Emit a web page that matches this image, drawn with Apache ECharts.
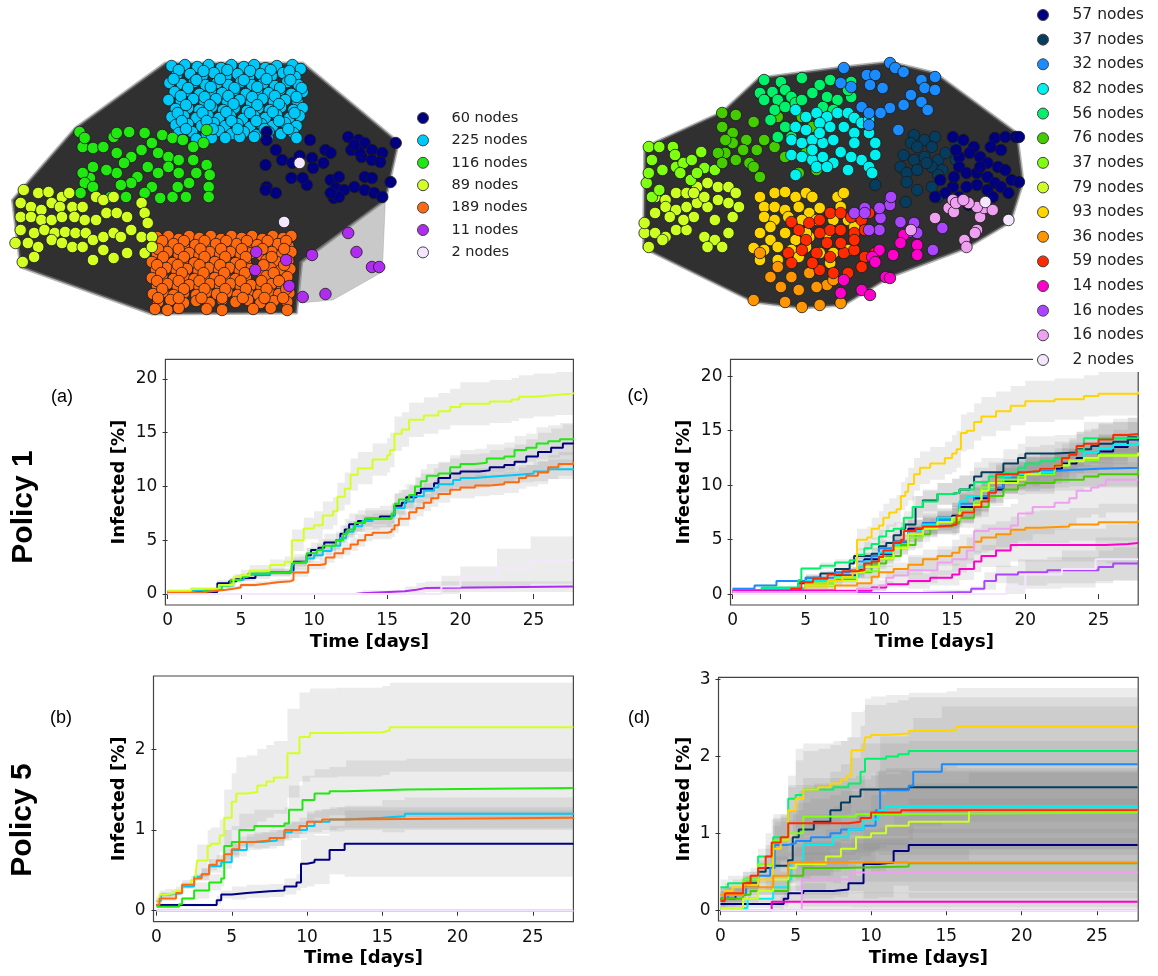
<!DOCTYPE html>
<html><head><meta charset="utf-8">
<script src="https://cdn.jsdelivr.net/npm/echarts@6/dist/echarts.min.js"></script>
<style>html,body{margin:0;padding:0;background:#fff}#c{width:1158px;height:976px}</style>
</head><body><div id="c"></div>
<script>
// ---------- tick labels ----------
const X_TICKS = [0, 5, 10, 15, 20, 25];
const Y_TICKS_A = [0, 5, 10, 15, 20];
const Y_TICKS_B = [0, 1, 2];
const Y_TICKS_C = [0, 5, 10, 15, 20];
const Y_TICKS_D = [0, 1, 2, 3];

// ---------- left network (layout coordinates) ----------
const LEFT_NAMES = ['60 nodes', '225 nodes', '116 nodes', '89 nodes', '189 nodes', '11 nodes', '2 nodes'];
const L60 = [258,82,258,90,267,100,273,110,257,115,283,113,290,106,300,90,302,108,303,118,315,100,313,113,320,103,282,128,297,135,293,128,258,137,267,143,257,140,320,130,325,138,328,127,323,148,337,87,347,90,353,93,360,100,370,103,383,93,340,100,350,107,360,110,368,112,353,127,360,128,343,137,353,140,362,143,370,147,378,132,333,140,328,147,320,143,348,102,343,95];
const L225 = [166,16,179,15,191,17,202,15,214,18,224,15,236,17,246,15,257,18,268,16,283,15,291,19,
171,25,184,24,196,26,207,23,219,26,230,24,241,27,252,24,263,26,274,23,286,27,
164,33,176,34,188,32,199,35,210,33,221,35,233,32,244,35,255,33,266,36,278,32,289,35,
169,42,181,41,193,44,204,41,215,43,227,40,238,44,249,41,260,43,271,40,282,44,293,42,
163,50,175,51,187,49,198,52,209,49,220,52,232,50,243,53,254,49,265,52,276,50,288,52,
170,59,182,58,193,60,205,57,216,60,227,58,239,61,250,58,261,60,272,57,284,60,293,58,
166,67,178,66,190,68,201,65,212,68,223,66,235,69,246,66,257,68,268,65,280,68,290,66,
170,75,182,74,195,76,207,73,218,76,230,74,242,77,253,74,264,76,276,73,287,76,
173,83,186,82,200,84,212,81,224,84,236,82,248,85,260,82,272,84,284,83,
176,90,190,89,205,88,218,88,232,87,246,87,259,88,287,88,
173,20,197,21,220,20,242,21,262,20,280,21,
168,29,190,30,213,29,236,30,258,29,281,30,
182,38,204,37,227,38,249,37,271,38,292,38,
175,46,198,47,221,46,244,47,266,46,287,47,
180,55,203,55,226,54,249,55,270,54,
172,63,196,63,219,62,242,63,264,62,285,63,
176,71,200,71,224,71,248,71,270,71,
180,79,206,79,230,79,256,79,279,79];
const L116 = [77,82,80,97,90,98,82,88,100,97,110,87,113,83,125,82,140,83,157,85,167,88,177,90,187,97,197,93,200,80,113,103,127,107,137,100,147,93,153,103,163,107,173,110,187,110,200,115,203,125,202,137,202,147,190,123,183,133,172,137,180,147,167,147,155,148,147,137,140,143,133,127,127,133,117,135,113,123,103,120,90,117,87,128,80,123,82,133,78,143,90,137,107,147,122,147,153,123,163,117,143,117,173,123,120,113];
const L89 = [23,140,37,143,47,142,60,147,67,143,20,153,30,157,40,160,50,153,58,157,70,157,80,157,93,147,100,150,110,147,20,167,30,167,40,170,50,170,60,167,72,167,82,170,93,170,103,163,113,163,123,167,137,153,140,163,143,173,20,180,33,183,43,180,53,183,63,182,73,183,83,183,90,190,100,187,110,183,117,187,127,180,137,187,147,187,15,193,27,193,37,197,50,190,60,193,70,197,80,197,90,210,100,200,110,208,123,203,140,203,147,197,22,212,33,207];
const L189 = [152,187,163,186,173,189,183,186,193,188,204,186,214,189,224,186,234,188,244,186,254,189,264,186,274,188,282,186,
148,195,158,196,168,194,178,197,189,195,199,197,209,194,219,196,229,194,239,197,249,195,259,197,269,194,279,196,
152,204,162,202,173,205,183,203,193,205,203,202,213,204,223,202,233,205,243,203,253,205,263,202,273,204,282,202,
147,212,157,210,167,213,177,211,188,213,198,210,208,212,218,210,228,213,238,211,258,210,268,212,279,211,
151,220,161,218,171,221,181,219,192,221,202,218,212,220,222,218,232,221,242,219,252,221,262,218,272,220,281,219,
147,228,157,226,168,229,178,227,188,229,198,226,208,228,218,226,228,229,238,227,258,226,268,229,278,227,
152,236,162,234,172,237,183,235,193,237,203,234,213,236,223,234,233,237,243,235,253,237,263,234,273,236,
148,244,158,242,168,245,178,243,190,245,200,242,210,244,220,242,230,245,240,243,250,245,260,242,270,244,280,243,
153,252,165,250,178,253,190,251,203,253,215,250,228,252,240,250,252,253,265,251,278,252,
150,259,162,260,173,258,200,259,215,260,245,259,262,258,278,260,
157,191,178,191,198,191,219,191,239,191,259,191,277,191,
153,199,173,199,194,199,214,199,234,199,254,199,275,199,
158,207,178,207,198,207,218,207,238,207,263,207,
152,215,172,215,193,215,213,215,233,215,255,215,275,215,
156,223,176,223,197,223,217,223,237,223,265,223,
152,231,173,231,193,231,213,231,233,231,253,231,270,231,
157,239,178,239,198,239,218,239,238,239,258,239,277,239,
153,248,173,248,195,248,215,248,235,248,256,248,274,248];
const L11 = [337,183,345,202,302,205,360,217,367,217,315,244,293,247,280,236,248,202,247,220,277,210];
const L2 = [290,113,275,172];
const L_POLY = [160,13,293,13,383,90,384,100,373,150,340,175,292,212,287,263,147,264,20,217,12,150,73,78];
const L_FAN = [373,150,370,222,322,250,290,253,290,212,340,175];

// ---------- right network (layout coordinates) ----------
const RIGHT_NAMES = ['57 nodes', '37 nodes', '32 nodes', '82 nodes', '56 nodes', '76 nodes', '37 nodes\u200b', '79 nodes', '93 nodes', '36 nodes', '59 nodes', '14 nodes', '16 nodes', '16 nodes\u200b', '2 nodes\u200b'];
const R57 = [327,137,337,140,347,147,367,138,377,137,387,137,390,137,373,150,333,157,343,153,353,157,360,163,370,167,377,170,383,180,390,182,333,167,340,173,350,173,360,177,367,183,373,187,380,193,360,190,350,185,340,187,327,187,320,193,310,197,333,197,342,205,365,197,353,167,328,177,315,180,363,147,330,150];
const R37 = [290,135,287,143,300,140,310,137,307,147,293,147,280,155,290,160,300,157,313,160,320,153,330,143,277,167,283,173,293,170,307,167,317,170,313,175,283,182,293,190,307,187,253,185,282,202,313,197,330,160,302,163];
const R32 = [223,68,245,75,253,75,260,88,248,85,267,63,272,68,280,72,297,80,300,88,310,77,310,90,287,95,280,105,267,108,258,113,240,107,247,113,297,102,303,110,275,130,230,87,247,125,220,83];
const R82 = [177,110,187,117,197,113,207,117,217,113,227,113,233,118,240,123,247,120,177,127,187,130,200,123,210,127,223,127,233,133,247,133,253,143,173,140,183,143,193,140,203,143,213,140,220,152,233,143,173,155,183,157,193,160,203,157,213,163,227,170,240,160,247,167,250,173,253,155,177,175,197,167,207,167,193,150,230,157,200,133];
const R56 = [147,80,163,82,183,78,200,85,210,80,220,83,230,82,143,93,155,92,167,90,173,97,160,100,147,100,157,110,167,107,177,103,207,97,217,100,230,97,203,107,213,110,227,90,153,120,167,127,173,137,160,137,183,100,193,93];
const R76 = [107,113,120,115,137,122,107,127,117,133,130,140,140,150,110,153,120,160,133,163,143,177,103,153,107,163,117,143,147,140,157,147,167,157,187,153,193,127,183,117,197,170,180,173,200,140,127,150,137,167,160,117,110,140];
const R37B = [37,147,47,147,60,147,62,155,40,160,50,170,63,167,70,163,78,160,87,152,90,168,35,183,40,197,47,190,67,173,77,180,100,170,107,163,83,173,37,173];
const R79 = [43,197,53,200,63,193,73,193,83,187,93,183,103,187,113,187,120,193,43,213,53,207,63,210,73,207,83,203,93,207,103,200,113,203,123,207,33,233,43,233,53,237,63,230,73,230,90,237,100,240,113,233,117,217,100,220,80,217,70,220,57,217,37,247,50,240,93,247,107,247,33,223,80,193,90,197];
const R93 = [143,197,157,193,167,192,177,197,187,193,193,197,217,197,223,193,147,207,157,207,167,210,180,207,190,213,200,208,220,207,147,217,157,220,170,217,183,220,197,220,213,220,227,220,143,233,153,240,167,233,177,240,190,237,207,233,220,230,233,227,147,250,160,247,173,250,187,247,200,253,213,253,227,250,143,260,160,260,180,257,210,263,187,233,153,227,137,248];
const R36 = [137,300,153,277,163,287,167,302,183,307,200,305,220,303,173,277,190,273,207,285,143,253,160,267,180,290,197,287,213,280];
const R59 = [173,222,180,230,190,223,200,220,210,213,220,213,230,217,240,220,247,213,187,240,200,233,210,230,220,230,233,233,243,230,170,253,183,250,197,253,210,257,223,253,233,250,243,257,200,270,213,273,227,273,240,267,193,263,233,240,207,243,220,243,173,263,253,253];
const R14 = [220,293,240,290,248,295,257,250,250,257,270,255,263,277,267,278,280,235,293,245,293,255,253,262,223,280,277,243];
const R16 = [233,213,243,208,258,218,257,230,267,198,267,205,277,222,290,223,317,228,308,250,285,232,247,230,257,208,268,197,243,213,293,233];
const R16B = [310,218,323,208,327,200,338,240,340,247,350,230,353,217,357,208,365,210,350,207,328,212,287,230,330,203,342,203,348,233,337,200];
const R2 = [358,202,380,220];
const R_POLY = [142,78,223,67,267,62,310,73,388,133,394,182,382,222,340,248,267,277,223,305,183,308,137,302,32,248,33,147,107,112];

// ---------- panel (a): Policy 1, left network clusters ----------
const A60 = [[0,0.2],[3.4,1.0],[4.2,1.2],[4.7,1.5],[6,1.8],[7,2.0],[8.4,2.2],[8.6,3.0],[9.5,3.6],[9.8,4.1],[10.3,4.3],[10.7,4.8],[11.5,5.0],[11.8,5.6],[12.1,6.0],[12.4,6.5],[13,6.8],[13.5,7.0],[14.5,7.2],[15.3,7.3],[15.5,8.2],[16,8.5],[16.3,9.0],[17,9.4],[17.3,9.8],[18.2,10.3],[18.5,10.8],[19.3,11.2],[20,11.4],[21.3,11.5],[22,11.8],[23,12.0],[23.7,12.3],[24.5,12.8],[25.3,13.2],[26.2,13.6],[27,14.0],[27.7,14.1]];
const A225 = [[0,0.25],[1.5,0.35],[2.5,0.5],[3.5,0.8],[4.5,1.3],[5.2,1.6],[5.5,1.8],[7,2.0],[8.5,2.5],[8.6,2.9],[9.5,3.3],[10,3.6],[10.6,4.0],[11.2,4.5],[11.8,5.2],[12.2,5.8],[12.7,6.3],[13.3,6.8],[14,7.0],[15.3,7.2],[15.5,8.0],[16.2,8.6],[16.8,9.1],[17.5,9.6],[18.2,9.9],[18.5,10.2],[19.5,10.6],[20,10.8],[21,10.9],[22,11.0],[23,11.1],[24,11.2],[25,11.4],[26,11.6],[27.7,11.7]];
const A116 = [[0,0.1],[2.5,0.4],[3.7,0.8],[4.3,1.3],[5,1.6],[5.5,1.9],[6.5,2.0],[8.4,2.1],[8.5,2.9],[9,3.0],[9.5,3.8],[10.2,4.1],[10.6,4.5],[11.5,5.0],[12,5.6],[12.3,6.0],[12.8,6.6],[13.5,7.0],[15.3,7.5],[15.5,8.4],[15.8,8.8],[16.5,9.2],[16.9,10.0],[17.3,10.5],[17.7,11.0],[18.5,11.2],[19.3,11.8],[20,12.1],[21,12.2],[21.8,12.6],[23,12.8],[23.7,13.4],[24.5,13.6],[25.2,14.0],[26,14.2],[26.8,14.4],[27.7,14.5]];
const A89 = [[0,0.3],[1.6,0.5],[3.5,0.85],[4.5,1.55],[5,1.75],[5.6,2.2],[7,2.7],[8,3.0],[8.5,5.0],[9.3,6.1],[10,6.4],[10.6,7.3],[11.3,7.7],[11.6,9.05],[12.1,9.8],[12.5,11.1],[13,11.7],[14,12.5],[15,12.9],[15.2,13.4],[15.5,14.9],[16,15.3],[16.5,16.2],[17.5,16.6],[18.5,17.0],[19.3,17.4],[20,17.7],[22,17.9],[23.5,18.1],[24,18.35],[25,18.5],[26.5,18.65],[27.7,18.75]];
const A189 = [[0,0.1],[2,0.25],[3,0.4],[4,0.5],[4.5,0.6],[5,0.85],[6,1.0],[7,1.1],[7.5,1.2],[8.4,1.3],[8.6,2.0],[9.6,2.7],[10.4,2.8],[10.8,3.4],[11.4,3.8],[12,4.2],[12.5,4.6],[13,5.0],[13.5,5.5],[14,5.7],[15,5.8],[15.3,6.0],[15.5,6.4],[15.8,7.0],[16.5,7.6],[17,8.0],[17.5,8.5],[18,8.9],[18.5,9.3],[19.3,9.7],[20,9.9],[21,10.1],[22,10.2],[23,10.4],[24,10.8],[24.5,11.0],[25.3,11.3],[26,11.8],[26.7,12.1],[27.7,12.3]];
const A11 = [[0,0],[12.85,0.08],[13.3,0.25],[16.2,0.4],[17,0.55],[17.6,0.7],[27.7,0.7]];
const A2 = [[0,0],[18.7,0.7],[20,1.55],[22.5,2.4],[24.8,3.15],[27.7,3.15]];
// band half-widths [time, half-width]
const A60_HW = [[0,0.1],[3,0.3],[5,0.4],[8.5,0.7],[10,0.8],[12,1.0],[15,1.2],[17,1.4],[20,1.6],[25,1.8]];
const A225_HW = [[0,0.05],[3,0.1],[5,0.2],[8.5,0.3],[10,0.4],[12,0.5],[15,0.6],[17,0.7],[20,0.8],[25,0.9]];
const A116_HW = [[0,0.1],[3,0.2],[5,0.3],[8.5,0.5],[10,0.6],[12,0.8],[15,0.9],[17,1.1],[20,1.3],[25,1.5]];
const A89_HW = [[0,0.1],[3,0.3],[5,0.5],[8.5,1.0],[10,1.3],[12,1.5],[15,1.6],[17,1.7],[20,2.0],[25,2.0]];
const A189_HW = [[0,0.05],[3,0.15],[5,0.2],[8.5,0.4],[10,0.5],[12,0.6],[15,0.7],[17,0.8],[20,1.0],[25,1.1]];
const A11_HW = [[0,0],[12.8,0.1],[15,0.3],[17,0.5],[20,0.6]];
const A2_HW = [[0,0],[18.7,1.0],[20,1.0],[22.5,1.8],[24.8,2.2]];

// ---------- panel (b): Policy 5, left network clusters ----------
const B60 = [[0,0.07],[3.8,0.07],[4,0.13],[4.3,0.2],[5,0.22],[6,0.24],[7.5,0.25],[8.5,0.3],[9.3,0.35],[9.6,0.58],[10,0.6],[10.5,0.63],[11.5,0.75],[12.5,0.83],[27.7,0.83]];
const B225 = [[0,0.12],[0.3,0.2],[1,0.22],[1.7,0.3],[2.5,0.42],[3,0.45],[3.5,0.55],[4.3,0.6],[5,0.75],[6,0.85],[7,0.87],[8,0.9],[8.5,0.97],[9,1.0],[10,1.05],[10.5,1.1],[11.5,1.13],[12.5,1.15],[15,1.17],[16.5,1.2],[27.7,1.21]];
const B116 = [[0,0.05],[1.5,0.08],[1.7,0.15],[2.5,0.25],[3.5,0.35],[4.3,0.4],[4.5,0.8],[5,0.85],[5.5,1.0],[6.5,1.05],[8.5,1.08],[8.8,1.25],[9.7,1.37],[10.5,1.45],[11.5,1.48],[12.6,1.5],[16.6,1.52],[27.7,1.52]];
const B89 = [[0,0.13],[0.2,0.2],[0.6,0.22],[1.3,0.25],[1.7,0.33],[2.3,0.38],[2.6,0.45],[2.7,0.62],[3.4,0.8],[3.6,0.83],[4.2,0.93],[4.5,1.15],[5,1.35],[5.3,1.45],[6,1.47],[6.7,1.55],[7.3,1.6],[7.8,1.65],[8.7,1.95],[9.5,2.15],[10.2,2.2],[12,2.21],[15,2.23],[15.5,2.27],[27.7,2.27]];
const B189 = [[0,0.07],[0.2,0.15],[1.3,0.22],[1.7,0.32],[2.5,0.4],[3,0.45],[3.5,0.57],[4,0.62],[4.5,0.7],[5,0.76],[5.5,0.85],[6.5,0.87],[7.5,0.9],[8.5,1.0],[9.5,1.05],[10,1.1],[11,1.13],[12,1.15],[27.7,1.16]];
const B11 = [[0,0],[27.7,0]];
const B2 = [[0,0],[27.7,0]];
const B60_HW = [[0,0.02],[4,0.05],[5,0.08],[8.5,0.1],[9.6,0.3],[12.5,0.41]];
const B225_HW = [[0,0.03],[3,0.08],[6,0.1],[10,0.15],[13,0.2]];
const B116_HW = [[0,0.02],[2,0.1],[4.5,0.2],[8.8,0.3],[12.6,0.36]];
const B89_HW = [[0,0.05],[2.7,0.2],[4.5,0.35],[5.3,0.45],[8.7,0.55],[12,0.55]];
const B189_HW = [[0,0.03],[3,0.07],[6,0.1],[10,0.13],[13,0.17]];
const B11_HW = [[0,0]];
const B2_HW = [[0,0]];

// ---------- panel (c): Policy 1, right network clusters ----------
const C57 = [[0,0.3],[2,0.5],[5,1.2],[7,1.7],[8.5,2.2],[9,3.2],[10,3.7],[11,4.8],[12,6.0],[13,6.5],[14,7.0],[15,7.2],[15.5,8.0],[16.5,8.8],[17.5,9.6],[18.5,10.4],[19.5,10.9],[20,11.1],[22,11.5],[22.5,12.0],[23.5,12.5],[25,13.1],[26,13.5],[27,14.2],[27.7,14.3]];
const C37 = [[0,0.3],[2,0.5],[4.5,1.0],[5,1.5],[6,1.9],[7,2.3],[8,2.8],[8.3,3.5],[9.5,3.7],[10,4.4],[10.5,4.7],[11,5.4],[11.5,6.0],[11.8,6.4],[12.5,8.0],[13,8.6],[14,9.2],[15,9.3],[15.5,9.6],[16.2,10.0],[16.5,10.8],[17,11.2],[18.5,12.0],[19.5,12.5],[20,12.9],[22,13.0],[23.5,13.3],[24.5,13.6],[25,13.8],[26,14.0],[27,14.4],[27.7,14.5]];
const C32 = [[0,0.5],[1.5,0.8],[3,1.2],[5,1.5],[7,2.0],[8,2.2],[8.5,3.0],[9.5,3.5],[10,4.2],[11,4.8],[12,5.8],[13,6.5],[14,6.8],[15,7.0],[15.5,8.3],[16.5,9.0],[17.5,9.8],[18.5,10.7],[19.5,11.0],[20,11.1],[21,11.3],[22,11.4],[23,11.5],[25,11.6],[27.7,11.7]];
const C82 = [[0,0.3],[2,0.5],[5,1.2],[7,1.6],[8.6,2.5],[9,3.0],[10,3.8],[11,4.6],[12,5.8],[13,6.4],[14,7.0],[15,7.1],[15.5,8.5],[16,9.0],[17,9.6],[18,10.2],[18.5,10.8],[19,11.0],[20,11.2],[22,11.8],[23,12.3],[24,13.0],[25,13.4],[26,13.7],[27.7,14.0]];
const C56 = [[0,0.3],[2,0.6],[4.5,1.3],[4.7,2.35],[6,2.6],[7,2.9],[8,3.1],[8.5,3.6],[9,4.2],[9.5,4.6],[10,5.3],[10.5,5.8],[11,6.0],[11.7,7.0],[12.3,8.0],[13,8.5],[14,9.2],[15,9.3],[15.5,9.6],[16.5,10.3],[17.5,10.8],[18.5,11.1],[19.5,11.6],[20,12.0],[21,12.2],[22,12.5],[23,12.8],[23.5,13.2],[24,14.3],[27.7,14.5]];
const C76 = [[0,0.2],[5,0.8],[7,1.3],[8.5,2.0],[9.5,2.8],[10.5,3.5],[11.5,4.5],[12.5,5.5],[13.5,6.2],[15,6.5],[15.5,7.0],[16.5,8.0],[17.5,9.0],[18.5,9.6],[19.5,10.0],[20,10.2],[22,10.5],[24,10.8],[25,11.0],[27.7,11.4]];
const C37B = [[0,0.2],[5,1.0],[7,1.5],[8.5,2.1],[10,3.2],[11,4.3],[12,5.2],[13,6.2],[14,6.6],[15,6.8],[15.5,7.8],[16.5,8.5],[17,9.8],[18,10.5],[19.5,10.8],[20,11.0],[22,11.8],[23,12.3],[25,12.8],[27.7,12.9]];
const C79 = [[0,0.1],[5,0.8],[7,1.2],[8.5,2.0],[9,2.5],[10,3.3],[11,4.2],[12,5.5],[13,6.0],[14,6.6],[15,7.0],[15.5,7.5],[16.5,8.2],[17,9.5],[17.5,10.2],[19.5,10.5],[20,11.0],[21,11.5],[22,11.8],[23,12.2],[24,12.5],[25,12.7],[27.7,13.0]];
const C93 = [[0,0.2],[3,0.3],[5,0.8],[6.5,1.2],[7.5,1.6],[8.2,2.1],[8.5,5.0],[9.2,5.2],[9.5,6.0],[10,6.3],[10.3,7.0],[10.7,7.5],[11.2,7.8],[11.5,9.0],[11.8,9.4],[12,10.1],[12.4,11.0],[12.8,11.6],[13.5,12.0],[14.5,12.5],[15,12.9],[15.3,13.3],[15.6,14.8],[16,15.0],[16.5,15.8],[17,16.3],[18,16.8],[19,17.3],[20,17.7],[22,17.9],[24,18.2],[25,18.4],[27.7,18.6]];
const C36 = [[0,0.2],[5,0.4],[7,0.8],[8.5,1.0],[9.5,1.6],[10,2.0],[11,2.3],[12,2.7],[13,3.2],[14,3.5],[15,3.8],[15.5,4.3],[16.5,4.8],[17,5.2],[18,5.5],[19,5.9],[20,6.1],[21,6.2],[23,6.4],[25,6.6],[27.7,6.8]];
const C59 = [[0,0.2],[4,0.5],[4.7,1.1],[5.5,1.4],[6.5,1.8],[7.5,2.1],[8.5,2.2],[9,2.8],[9.5,3.0],[10,3.4],[10.3,4.0],[11,4.7],[11.5,5.0],[11.7,5.8],[12.5,6.0],[13,6.2],[14,6.3],[15,6.4],[15.3,7.2],[15.7,7.5],[16.5,8.0],[17,8.5],[17.5,9.3],[18,11.0],[19.5,11.2],[20,11.3],[21,11.5],[22,11.8],[22.5,12.5],[23,12.8],[23.5,13.6],[24,13.8],[25,14.2],[26,14.6],[27,14.7],[27.7,14.7]];
const C14 = [[0,0.3],[8.5,0.3],[9.5,0.6],[10.5,0.9],[12,1.2],[13.5,1.5],[15,1.8],[15.5,2.3],[16.5,3.0],[17,3.5],[18,4.0],[19,4.5],[25.5,4.6],[27,4.7],[27.7,4.7]];
const C16 = [[0,0.1],[13,0.2],[16.3,0.5],[17.2,1.2],[18,1.8],[19.5,2.0],[21.5,2.2],[25,2.5],[26,2.8],[27.7,2.8]];
const C16B = [[0,0.2],[8.5,0.5],[10,0.8],[10.5,1.5],[11,1.7],[12,2.2],[14,2.9],[15,3.2],[16,4.0],[16.5,5.8],[17.5,6.0],[19,6.3],[19.5,7.4],[20.5,8.0],[22,8.4],[23,8.8],[23.5,9.5],[24.5,9.8],[25,10.0],[25.5,10.5],[27.7,10.5]];
const C2 = [[0,0],[18.7,0.7],[20,1.8],[22.5,2.3],[24.8,3.2],[27.7,3.2]];
const C57_HW = [[0,0.1],[5,0.3],[8.5,0.6],[12,0.9],[15,1.2],[20,1.4],[25,1.6]];
const C37_HW = [[0,0.1],[5,0.3],[8.5,0.6],[12,1.0],[15,1.3],[20,1.6],[25,1.8]];
const C32_HW = [[0,0.1],[5,0.3],[8.5,0.7],[12,1.0],[15,1.4],[20,1.6],[25,1.8]];
const C82_HW = [[0,0.05],[5,0.2],[8.5,0.4],[12,0.6],[15,0.8],[20,1.0],[25,1.1]];
const C56_HW = [[0,0.1],[5,0.3],[8.5,0.6],[12,1.0],[15,1.3],[20,1.5],[25,1.7]];
const C76_HW = [[0,0.05],[5,0.2],[8.5,0.5],[12,0.7],[15,0.9],[20,1.0],[25,1.1]];
const C37B_HW = [[0,0.1],[5,0.3],[8.5,0.7],[12,1.0],[15,1.3],[20,1.6],[25,1.8]];
const C79_HW = [[0,0.05],[5,0.2],[8.5,0.5],[12,0.7],[15,0.9],[20,1.1],[25,1.2]];
const C93_HW = [[0,0.1],[5,0.4],[8.5,1.0],[10,1.3],[12,1.5],[15,1.7],[17,1.8],[20,1.9],[25,2.0]];
const C36_HW = [[0,0.1],[5,0.3],[8.5,0.6],[12,0.9],[15,1.2],[20,1.5],[25,1.7]];
const C59_HW = [[0,0.1],[5,0.3],[8.5,0.5],[12,0.8],[15,1.0],[20,1.3],[25,1.5]];
const C14_HW = [[0,0.1],[8.5,0.3],[12,0.7],[15,1.0],[18,1.5],[25,1.8]];
const C16_HW = [[0,0.05],[13,0.2],[17,0.8],[19,1.2],[25,1.5]];
const C16B_HW = [[0,0.1],[8.5,0.5],[12,1.2],[16.5,2.0],[19.5,2.5],[25,3.0]];
const C2_HW = [[0,0],[18.7,1.0],[20,1.3],[22.5,1.7],[24.8,2.0]];

// ---------- panel (d): Policy 5, right network clusters ----------
const D57 = [[0,0.08],[4,0.08],[4.2,0.15],[4.5,0.22],[5.5,0.25],[7.5,0.27],[8.5,0.35],[9.5,0.6],[10.5,0.62],[11.5,0.77],[12.5,0.85],[27.7,0.85]];
const D37 = [[0,0.15],[1,0.2],[1.7,0.35],[2.5,0.5],[3,0.55],[3.5,0.58],[4.5,0.65],[4.8,0.95],[5.2,1.05],[6.2,1.15],[7.3,1.3],[8,1.4],[8.6,1.48],[9.3,1.57],[12.5,1.6],[27.7,1.6]];
const D32 = [[0,0.15],[0.5,0.2],[1.7,0.3],[2.5,0.45],[3.3,0.55],[3.6,0.85],[4.5,0.87],[5,0.9],[6,0.95],[7.3,1.0],[8,1.05],[9.5,1.1],[10.3,1.3],[10.6,1.56],[12.5,1.62],[12.8,1.8],[14.7,1.9],[27.7,1.9]];
const D82 = [[0,0.03],[1.5,0.03],[1.8,0.15],[3.5,0.3],[4.5,0.4],[4.7,0.62],[5.5,0.85],[7.5,0.95],[8.5,1.05],[9.5,1.18],[10.5,1.3],[11,1.35],[27.7,1.35]];
const D56 = [[0,0.3],[0.5,0.35],[1.5,0.4],[2.5,0.7],[3.5,0.95],[4.5,1.45],[5,1.5],[5.5,1.57],[7.5,1.6],[8.5,1.65],[9.3,1.8],[9.6,1.97],[11,2.0],[11.8,2.03],[12.5,2.07],[27.7,2.07]];
const D76 = [[0,0.15],[1.5,0.2],[2,0.25],[4.5,0.45],[5.5,0.55],[8,0.57],[12.5,0.61],[27.7,0.61]];
const D37B = [[0,0.2],[1.5,0.4],[2.5,0.6],[3.5,0.9],[4.5,1.0],[5.5,1.22],[9,1.25],[10.5,1.27],[27.7,1.27]];
const D79 = [[0,0.03],[1.3,0.03],[1.5,0.15],[2.5,0.25],[3.5,0.4],[4.5,0.55],[5,0.6],[7,0.7],[8,0.8],[9,0.95],[10,1.0],[11,1.1],[12.5,1.15],[16.5,1.29],[27.7,1.29]];
const D93 = [[0,0.2],[0.3,0.25],[0.8,0.3],[1.5,0.33],[2.5,0.4],[3.5,0.8],[4,0.92],[4.5,1.3],[5,1.45],[5.5,1.57],[6.5,1.6],[7.3,1.65],[8,1.7],[8.4,1.75],[8.7,2.08],[9.5,2.1],[9.6,2.25],[10,2.28],[11,2.3],[12.5,2.33],[15,2.35],[15.7,2.39],[27.7,2.39]];
const D36 = [[0,0.2],[1.5,0.3],[3.5,0.45],[4.5,0.62],[27.7,0.62]];
const D59 = [[0,0.12],[0.3,0.22],[1.5,0.35],[2,0.45],[2.5,0.55],[3,0.7],[3.4,0.88],[4,0.95],[4.5,1.13],[8.5,1.15],[9.3,1.2],[10,1.27],[12,1.3],[27.7,1.3]];
const D14 = [[0,0],[3.4,0.11],[27.7,0.11]];
const D16 = [[0,0],[27.7,0]];
const D16B = [[0,0],[5.4,0.4],[8.7,0.49],[27.7,0.49]];
const D2 = [[0,0],[27.7,0]];
const D57_HW = [[0,0.05],[4,0.1],[9.5,0.45],[12.5,0.6]];
const D37_HW = [[0,0.1],[3,0.3],[5,0.5],[9.3,0.6]];
const D32_HW = [[0,0.1],[3,0.3],[5,0.5],[10.6,0.7],[14.7,0.75]];
const D82_HW = [[0,0.05],[3,0.2],[5,0.4],[10,0.5]];
const D56_HW = [[0,0.1],[3,0.3],[5,0.6],[9.6,0.7]];
const D76_HW = [[0,0.05],[3,0.2],[5,0.35],[10,0.45]];
const D37B_HW = [[0,0.1],[3,0.3],[5,0.5],[10,0.55]];
const D79_HW = [[0,0.05],[3,0.2],[5,0.35],[10,0.5]];
const D93_HW = [[0,0.1],[3,0.3],[5,0.5],[8.7,0.5],[10,0.5]];
const D36_HW = [[0,0.1],[3,0.25],[5,0.45],[10,0.5]];
const D59_HW = [[0,0.1],[3,0.3],[4.5,0.5],[10,0.5]];
const D14_HW = [[0,0],[3.4,0.12]];
const D16_HW = [[0,0]];
const D16B_HW = [[0,0],[5.4,0.35],[8.7,0.45]];
const D2_HW = [[0,0]];

// ---------- styles ----------
const CL = {n60:'#000080', n225:'#00c8f8', n116:'#22e811', n89:'#d4ff22', n189:'#ff6a10', n11:'#b02cf0', n2:'#f4e6ff'};
const CR = {n57:'#000080', n37:'#063d5e', n32:'#1a8cff', n82:'#00f2f0', n56:'#00f26a', n76:'#44cc00', n37b:'#80ff10', n79:'#ccff22', n93:'#ffd500', n36:'#ff9500', n59:'#ff2a00', n14:'#ff00cc', n16:'#aa44ff', n16b:'#f0a0f0', n2:'#f4e6ff'};
const BAND_FILL = 'rgba(128,128,128,0.15)';
const FONT = 'DejaVu Sans';

function pairs(flat){ const o=[]; for(let i=0;i<flat.length;i+=2) o.push([flat[i],flat[i+1]]); return o; }
function hwAt(hw, x){ let h=hw[0][1]; for(const p of hw){ if(p[0]<=x) h=p[1]; } return h; }

const series = [];
function polySeries(gi, flat, style, z){
  series.push({type:'custom', coordinateSystem:'cartesian2d', xAxisIndex:gi, yAxisIndex:gi, silent:true, z:z,
    data:[[flat[0],flat[1]]],
    renderItem:function(p, api){
      const pts=[]; for(let i=0;i<flat.length;i+=2) pts.push(api.coord([flat[i],flat[i+1]]));
      return {type:'polygon', shape:{points:pts}, style:style};
    }});
}
function nodes(gi, name, flat, color){
  series.push({type:'scatter', name:name, xAxisIndex:gi, yAxisIndex:gi, data:pairs(flat), symbol:'circle', symbolSize:11.5, silent:true, z:5,
    itemStyle:{color:color, borderColor:'#1a1a1a', borderWidth:0.8, opacity:1}});
}
function band(gi, pts, hw){
  series.push({type:'custom', coordinateSystem:'cartesian2d', xAxisIndex:gi, yAxisIndex:gi, silent:true, clip:true, z:1,
    data:[pts[0]],
    renderItem:function(p, api){
      const up=[], lo=[];
      for(let i=0;i<pts.length;i++){
        const x0=pts[i][0], x1=(i+1<pts.length)?pts[i+1][0]:pts[i][0];
        const h=hwAt(hw, x0), y=pts[i][1];
        up.push(api.coord([x0,y+h]), api.coord([x1,y+h]));
        lo.push(api.coord([x0,Math.max(0,y-h)]), api.coord([x1,Math.max(0,y-h)]));
      }
      return {type:'polygon', shape:{points:up.concat(lo.reverse())}, style:{fill:BAND_FILL}};
    }});
}
function line(gi, pts, color){
  series.push({type:'line', xAxisIndex:gi, yAxisIndex:gi, data:pts, step:'end', symbol:'none', showSymbol:false, silent:true, z:3,
    lineStyle:{color:color, width:2}, itemStyle:{color:color}});
}

// panels: bands first, then lines
const PANEL_A = [[A60,A60_HW,CL.n60],[A225,A225_HW,CL.n225],[A116,A116_HW,CL.n116],[A89,A89_HW,CL.n89],[A189,A189_HW,CL.n189],[A11,A11_HW,CL.n11],[A2,A2_HW,CL.n2]];
const PANEL_B = [[B60,B60_HW,CL.n60],[B225,B225_HW,CL.n225],[B116,B116_HW,CL.n116],[B89,B89_HW,CL.n89],[B189,B189_HW,CL.n189],[B11,B11_HW,CL.n11],[B2,B2_HW,CL.n2]];
const PANEL_C = [[C57,C57_HW,CR.n57],[C37,C37_HW,CR.n37],[C32,C32_HW,CR.n32],[C82,C82_HW,CR.n82],[C56,C56_HW,CR.n56],[C76,C76_HW,CR.n76],[C37B,C37B_HW,CR.n37b],[C79,C79_HW,CR.n79],[C93,C93_HW,CR.n93],[C36,C36_HW,CR.n36],[C59,C59_HW,CR.n59],[C14,C14_HW,CR.n14],[C16,C16_HW,CR.n16],[C16B,C16B_HW,CR.n16b],[C2,C2_HW,CR.n2]];
const PANEL_D = [[D57,D57_HW,CR.n57],[D37,D37_HW,CR.n37],[D32,D32_HW,CR.n32],[D82,D82_HW,CR.n82],[D56,D56_HW,CR.n56],[D76,D76_HW,CR.n76],[D37B,D37B_HW,CR.n37b],[D79,D79_HW,CR.n79],[D93,D93_HW,CR.n93],[D36,D36_HW,CR.n36],[D59,D59_HW,CR.n59],[D14,D14_HW,CR.n14],[D16,D16_HW,CR.n16],[D16B,D16B_HW,CR.n16b],[D2,D2_HW,CR.n2]];
[PANEL_A, PANEL_B, PANEL_C, PANEL_D].forEach(function(panel, gi){
  panel.forEach(function(s){ band(gi, s[0], s[1]); });
  panel.forEach(function(s){ line(gi, s[0], s[2]); });
});

// networks
polySeries(4, L_POLY, {fill:'#303030', stroke:'rgba(120,120,120,0.55)', lineWidth:3, lineJoin:'round'}, 2);
polySeries(4, L_FAN, {fill:'rgba(90,90,90,0.33)', stroke:'rgba(150,150,150,0.35)', lineWidth:1}, 2);
nodes(4, LEFT_NAMES[1], L225, CL.n225);
nodes(4, LEFT_NAMES[4], L189, CL.n189);
nodes(4, LEFT_NAMES[2], L116, CL.n116);
nodes(4, LEFT_NAMES[3], L89, CL.n89);
nodes(4, LEFT_NAMES[0], L60, CL.n60);
nodes(4, LEFT_NAMES[5], L11, CL.n11);
nodes(4, LEFT_NAMES[6], L2, CL.n2);

polySeries(5, R_POLY, {fill:'#303030', stroke:'rgba(120,120,120,0.55)', lineWidth:3, lineJoin:'round'}, 2);
nodes(5, RIGHT_NAMES[7], R79, CR.n79);
nodes(5, RIGHT_NAMES[6], R37B, CR.n37b);
nodes(5, RIGHT_NAMES[5], R76, CR.n76);
nodes(5, RIGHT_NAMES[4], R56, CR.n56);
nodes(5, RIGHT_NAMES[3], R82, CR.n82);
nodes(5, RIGHT_NAMES[2], R32, CR.n32);
nodes(5, RIGHT_NAMES[1], R37, CR.n37);
nodes(5, RIGHT_NAMES[0], R57, CR.n57);
nodes(5, RIGHT_NAMES[8], R93, CR.n93);
nodes(5, RIGHT_NAMES[9], R36, CR.n36);
nodes(5, RIGHT_NAMES[10], R59, CR.n59);
nodes(5, RIGHT_NAMES[12], R16, CR.n16);
nodes(5, RIGHT_NAMES[11], R14, CR.n14);
nodes(5, RIGHT_NAMES[13], R16B, CR.n16b);
nodes(5, RIGHT_NAMES[14], R2, CR.n2);

// ---------- layout ----------
const GRIDS = [
  {left:165.4, top:359.3, width:408, height:245.7},
  {left:153.5, top:676, width:419.9, height:245.7},
  {left:730.5, top:359.3, width:407.7, height:245.7},
  {left:718.5, top:677.3, width:419.7, height:243.7},
  {left:0, top:50, width:420, height:280},
  {left:610, top:0, width:430, height:330}
];
const XR = [[-0.15,27.72],[-0.2,27.7],[-0.14,27.71],[-0.13,27.74]];
const YR = [[-1.02,21.83],[-0.136,2.905],[-1.0,21.56],[-0.14,3.03]];
const YT = [Y_TICKS_A, Y_TICKS_B, Y_TICKS_C, Y_TICKS_D];
const YGAP = [37, 25, 37, 25];

const xAxes = [], yAxes = [];
for (let i=0;i<4;i++){
  xAxes.push({type:'value', gridIndex:i, min:XR[i][0], max:XR[i][1],
    axisLine:{show:false}, splitLine:{show:false},
    axisTick:{show:true, inside:false, length:5, lineStyle:{color:'#333', width:1}, customValues:X_TICKS},
    axisLabel:{show:true, customValues:X_TICKS, fontSize:17, fontFamily:FONT, color:'#111', margin:7},
    name:'Time [days]', nameLocation:'middle', nameGap:28,
    nameTextStyle:{fontSize:18, fontWeight:'bold', fontFamily:FONT, color:'#000'}});
  yAxes.push({type:'value', gridIndex:i, min:YR[i][0], max:YR[i][1],
    axisLine:{show:false}, splitLine:{show:false},
    axisTick:{show:true, inside:false, length:5, lineStyle:{color:'#333', width:1}, customValues:YT[i]},
    axisLabel:{show:true, customValues:YT[i], fontSize:17, fontFamily:FONT, color:'#111', margin:8},
    name:'Infected [%]', nameLocation:'middle', nameGap:YGAP[i], nameRotate:90,
    nameTextStyle:{fontSize:18, fontWeight:'bold', fontFamily:FONT, color:'#000'}});
}
xAxes.push({type:'value', gridIndex:4, min:0, max:406.5, show:false});
yAxes.push({type:'value', gridIndex:4, min:0, max:280, inverse:true, show:false});
xAxes.push({type:'value', gridIndex:5, min:0, max:410.1, show:false});
yAxes.push({type:'value', gridIndex:5, min:0, max:330, inverse:true, show:false});

const grids = GRIDS.map(function(g, i){
  return Object.assign({containLabel:false, show:i<4, borderColor:'#444', borderWidth:1.2, backgroundColor:'transparent'}, g);
});

const option = {
  animation:false,
  backgroundColor:'#fff',
  grid:grids, xAxis:xAxes, yAxis:yAxes, series:series,
  legend:[
    {data:LEFT_NAMES, orient:'vertical', left:417, top:110, padding:0, itemWidth:11, itemHeight:11, itemGap:6.4, icon:'circle',
     selectedMode:false, itemStyle:{borderColor:'#444', borderWidth:1},
     textStyle:{fontSize:14.5, fontFamily:FONT, color:'#222', lineHeight:16, padding:[0,0,0,18]}},
    {data:RIGHT_NAMES, orient:'vertical', left:1033, top:0, padding:[6,20,3,4], backgroundColor:'#fff', z:10,
     itemWidth:11, itemHeight:11, itemGap:6.64, icon:'circle', selectedMode:false, itemStyle:{borderColor:'#444', borderWidth:1},
     textStyle:{fontSize:15.5, fontFamily:FONT, color:'#222', lineHeight:18, padding:[0,0,0,19]}}
  ],
  graphic:[
    {type:'text', x:24, y:507, rotation:Math.PI/2, style:{text:'Policy 1', font:'bold 30px "Liberation Sans"', fill:'#000', textAlign:'center', textVerticalAlign:'middle'}},
    {type:'text', x:23, y:820, rotation:Math.PI/2, style:{text:'Policy 5', font:'bold 30px "Liberation Sans"', fill:'#000', textAlign:'center', textVerticalAlign:'middle'}},
    {type:'text', x:62, y:397, style:{text:'(a)', font:'18px "Liberation Sans"', fill:'#000', textAlign:'center', textVerticalAlign:'middle'}},
    {type:'text', x:61, y:718, style:{text:'(b)', font:'18px "Liberation Sans"', fill:'#000', textAlign:'center', textVerticalAlign:'middle'}},
    {type:'text', x:638, y:396, style:{text:'(c)', font:'18px "Liberation Sans"', fill:'#000', textAlign:'center', textVerticalAlign:'middle'}},
    {type:'text', x:639, y:718, style:{text:'(d)', font:'18px "Liberation Sans"', fill:'#000', textAlign:'center', textVerticalAlign:'middle'}}
  ]
};
const chart = echarts.init(document.getElementById('c'), null, {renderer:'canvas'});
chart.setOption(option);
</script></body></html>
